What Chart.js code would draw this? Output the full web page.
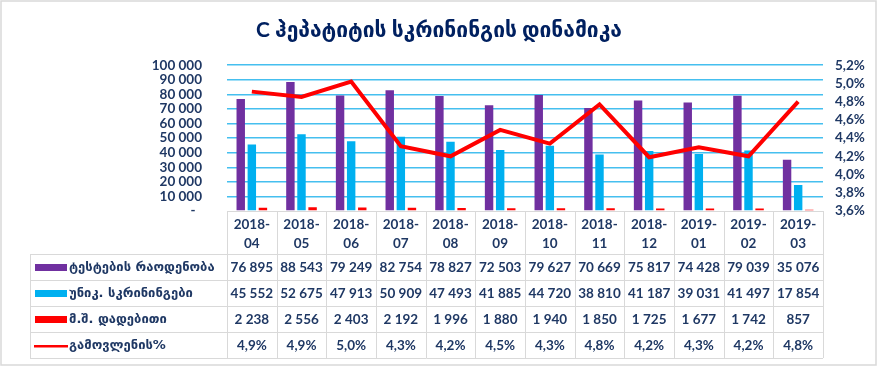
<!DOCTYPE html>
<html>
<head>
<meta charset="utf-8">
<script src="https://cdn.jsdelivr.net/npm/chart.js@4/dist/chart.umd.min.js"></script>
<style>
  html, body { margin: 0; padding: 0; background: #fff; }
  #wrap { width: 878px; height: 367px; position: relative; }
</style>
</head>
<body>
<div id="wrap"><canvas id="c" width="878" height="367"></canvas></div>
<script>
const titleText = 'C ჰეპატიტის სკრინინგის დინამიკა';
const categories = ['2018-04', '2018-05', '2018-06', '2018-07', '2018-08', '2018-09', '2018-10', '2018-11', '2018-12', '2019-01', '2019-02', '2019-03'];
const seriesNames = ['ტესტების რაოდენობა', 'უნიკ. სკრინინგები', 'მ.შ. დადებითი', 'გამოვლენის%'];
const testsCount = [76895, 88543, 79249, 82754, 78827, 72503, 79627, 70669, 75817, 74428, 79039, 35076];
const uniqueScreenings = [45552, 52675, 47913, 50909, 47493, 41885, 44720, 38810, 41187, 39031, 41497, 17854];
const positives = [2238, 2556, 2403, 2192, 1996, 1880, 1940, 1850, 1725, 1677, 1742, 857];
const detectionRate = [4.91, 4.852, 5.02, 4.31, 4.20, 4.49, 4.34, 4.77, 4.19, 4.30, 4.20, 4.80];
const leftAxisMin = 0, leftAxisMax = 100000, leftAxisStep = 10000;
const rightAxisMin = 3.6, rightAxisMax = 5.2, rightAxisStep = 0.2;

const NAVY = '#1F3864';
const FONT = 'Lato, "DejaVu Sans", sans-serif';
const GEO_FONT = '"DejaVu Sans", sans-serif';
const colors = ['#7030A0', '#00B0F0', '#FF0000', '#FF0000'];

function fmtNum(n) { return String(n).replace(/\B(?=(\d{3})+(?!\d))/g, ' '); }
function fmtPct(v) { return v.toFixed(1).replace('.', ',') + '%'; }

const tablePlugin = {
  id: 'tablePlugin',
  beforeDraw(chart) {
    const ctx = chart.ctx;
    ctx.save();
    ctx.fillStyle = '#fff';
    ctx.fillRect(0, 0, chart.width, chart.height);
    ctx.strokeStyle = '#D9D9D9';
    ctx.lineWidth = 1.5;
    ctx.strokeRect(1, 1, chart.width - 3, chart.height - 3);
    ctx.restore();
  },
  afterDraw(chart) {
    const ctx = chart.ctx;
    const area = chart.chartArea;
    const xs = chart.scales.x;
    const n = categories.length;
    const cw = (area.right - area.left) / n;
    const top = Math.round(area.bottom);
    const headerBottom = top + 43;
    const rowH = 26;
    const legendLeft = 30;
    const tableBottom = headerBottom + rowH * 4;
    ctx.save();
    ctx.strokeStyle = '#D9D9D9';
    ctx.lineWidth = 1;
    ctx.beginPath();
    ctx.moveTo(area.left, top + 0.5); ctx.lineTo(area.right, top + 0.5);
    for (let i = 0; i <= 4; i++) {
      const y = Math.round(headerBottom + i * rowH) + 0.5;
      ctx.moveTo(legendLeft, y); ctx.lineTo(area.right, y);
    }
    for (let j = 0; j <= n; j++) {
      const x = Math.round(area.left + j * cw) + 0.5;
      ctx.moveTo(x, top); ctx.lineTo(x, tableBottom);
    }
    ctx.moveTo(legendLeft + 0.5, headerBottom); ctx.lineTo(legendLeft + 0.5, tableBottom);
    ctx.stroke();

    // header labels
    ctx.fillStyle = NAVY;
    ctx.textAlign = 'center';
    ctx.textBaseline = 'middle';
    ctx.font = 'bold 13.5px ' + FONT;
    categories.forEach((c, i) => {
      const x = xs.getPixelForValue(i);
      const parts = c.split('-');
      ctx.fillText(parts[0] + '-', x, top + 14);
      ctx.fillText(parts[1], x, top + 33);
    });

    const rows = [
      testsCount.map(fmtNum),
      uniqueScreenings.map(fmtNum),
      positives.map(fmtNum),
      detectionRate.map(fmtPct)
    ];
    rows.forEach((vals, r) => {
      const yc = headerBottom + rowH * r + rowH / 2 + 1;
      // legend key
      ctx.fillStyle = colors[r];
      if (r < 3) ctx.fillRect(35, yc - 4, 32, 7);
      else ctx.fillRect(34, yc - 1, 34, 2.5);
      // legend text
      ctx.fillStyle = NAVY;
      ctx.textAlign = 'left';
      let fs = 13;
      ctx.font = 'bold ' + fs + 'px ' + GEO_FONT;
      while (ctx.measureText(seriesNames[r]).width > 155 && fs > 8) {
        fs -= 0.5;
        ctx.font = 'bold ' + fs + 'px ' + GEO_FONT;
      }
      ctx.fillText(seriesNames[r], 69, yc);
      ctx.textAlign = 'center';
      ctx.font = 'bold 13.5px ' + FONT;
      vals.forEach((v, i) => {
        ctx.fillText(v, xs.getPixelForValue(i), yc);
      });
    });
    ctx.restore();
  }
};

new Chart(document.getElementById('c'), {
  type: 'bar',
  data: {
    labels: categories,
    datasets: [
      { type: 'line', label: seriesNames[3], data: detectionRate, yAxisID: 'y1', borderColor: colors[3], backgroundColor: colors[3], borderWidth: 4, pointRadius: 0, tension: 0, order: 0 },
      { label: seriesNames[0], data: testsCount, yAxisID: 'y', backgroundColor: colors[0], order: 1 },
      { label: seriesNames[1], data: uniqueScreenings, yAxisID: 'y', backgroundColor: colors[1], order: 1 },
      { label: seriesNames[2], data: positives, yAxisID: 'y', backgroundColor: colors[2], order: 1 }
    ]
  },
  options: {
    responsive: false,
    animation: false,
    devicePixelRatio: 1,
    layout: { padding: { left: 0, right: 0, top: 0, bottom: 156 } },
    datasets: { bar: { categoryPercentage: 0.67, barPercentage: 0.76 } },
    plugins: {
      legend: { display: false },
      tooltip: { enabled: false },
      title: {
        display: true,
        text: titleText,
        color: '#002060',
        font: { family: FONT, size: 21, weight: 'bold', lineHeight: 1.2 },
        padding: { top: 18, bottom: 22 }
      }
    },
    scales: {
      x: { display: false, offset: true },
      y: {
        position: 'left',
        min: leftAxisMin, max: leftAxisMax,
        afterFit(scale) { scale.width = 227; },
        border: { display: false },
        grid: {
          drawTicks: false,
          color: ctx => (ctx.tick && ctx.tick.value === 0) ? 'rgba(0,0,0,0)' : '#45BFEF',
          lineWidth: 1.5
        },
        ticks: {
          stepSize: leftAxisStep,
          autoSkip: false,
          padding: 25,
          color: NAVY,
          font: { family: FONT, size: 13.5, weight: 'bold' },
          callback: v => v === 0 ? '-  ' : fmtNum(v)
        }
      },
      y1: {
        position: 'right',
        min: rightAxisMin, max: rightAxisMax,
        afterFit(scale) { scale.width = 55; },
        border: { display: false },
        grid: { display: false, drawTicks: false },
        ticks: {
          stepSize: rightAxisStep,
          autoSkip: false,
          padding: 12,
          color: NAVY,
          font: { family: FONT, size: 13.5, weight: 'bold' },
          callback: v => fmtPct(v)
        }
      }
    }
  },
  plugins: [tablePlugin]
});
</script>
</body>
</html>
